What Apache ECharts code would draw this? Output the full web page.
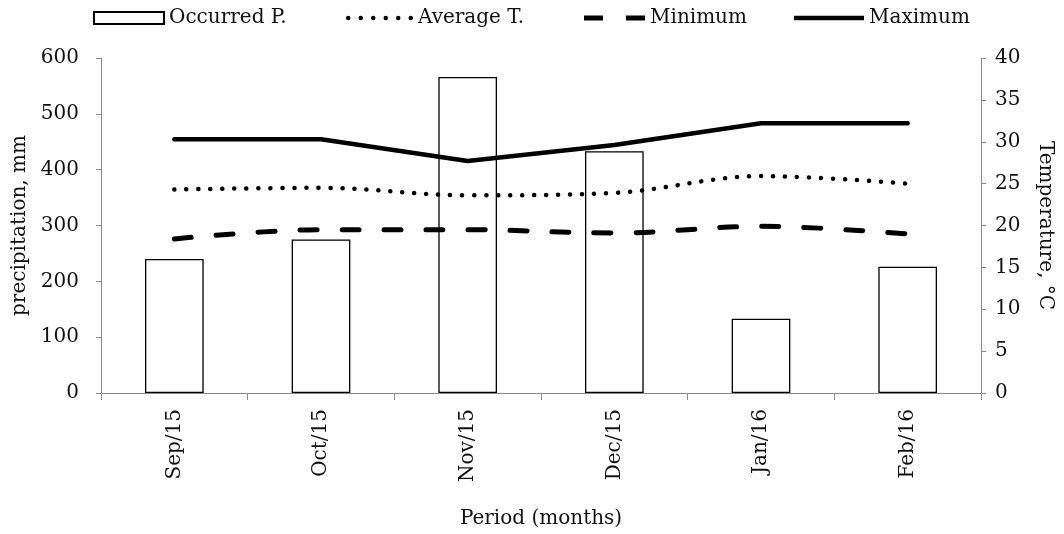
<!DOCTYPE html>
<html>
<head>
<meta charset="utf-8">
<script src="https://cdn.jsdelivr.net/npm/echarts@6/dist/echarts.min.js"></script>
<style>
html,body{margin:0;padding:0;background:#fff;}
#chart{width:1064px;height:534px;}
</style>
</head>
<body>
<div id="chart"></div>
<script>
const categories = ['Sep/15', 'Oct/15', 'Nov/15', 'Dec/15', 'Jan/16', 'Feb/16'];
const occurredP = [240, 275, 566, 433, 133, 226];
const averageT = [24.3, 24.5, 23.6, 23.9, 25.9, 25.0];
const minimumT = [18.4, 19.5, 19.5, 19.1, 19.9, 19.0];
const maximumT = [30.3, 30.3, 27.7, 29.6, 32.2, 32.2];
const seriesNames = ['Occurred P.', 'Average T.', 'Minimum', 'Maximum'];

const FONT = 'DejaVu Serif';
const TXT = '#111';
const AX = '#8a8a8a';

// legend icon shapes
let dotPath = 'path://';
for (let i = 0; i < 6; i++) {
  const x0 = i * 12.5;
  dotPath += 'M' + x0 + ',2.25 a2.25,2.25 0 1,0 4.5,0 a2.25,2.25 0 1,0 -4.5,0 Z ';
}
const dashPath = 'path://M0,0 h19 v5 h-19 Z M42,0 h19 v5 h-19 Z';
const solidPath = 'path://M0,0 h70 v4.5 h-70 Z';

const chart = echarts.init(document.getElementById('chart'), null, {renderer: 'canvas'});

function legendAt(name, left, w, h, icon) {
  return {
    data: [name],
    left: left,
    top: 8,
    padding: 0,
    icon: icon,
    itemWidth: w,
    itemHeight: h,
    itemGap: 0,
    selectedMode: false,
    textStyle: {fontFamily: FONT, fontSize: 20, color: TXT, lineHeight: 20}
  };
}

const option = {
  backgroundColor: '#fff',
  animation: false,
  legend: [
    legendAt(seriesNames[0], 93, 70, 12, 'rect'),
    legendAt(seriesNames[1], 346, 67, 4.5, dotPath),
    legendAt(seriesNames[2], 584, 61, 5, dashPath),
    legendAt(seriesNames[3], 794, 70, 4.5, solidPath)
  ],
  grid: {left: 101, right: 83, top: 58, bottom: 141, containLabel: false},
  xAxis: {
    type: 'category',
    data: categories,
    boundaryGap: true,
    name: 'Period (months)',
    nameLocation: 'middle',
    nameGap: 116,
    nameTextStyle: {fontFamily: FONT, fontSize: 20, color: TXT},
    axisLine: {show: true, lineStyle: {color: AX, width: 1}},
    axisTick: {show: true, length: 7, lineStyle: {color: AX}},
    axisLabel: {rotate: 90, margin: 16, fontFamily: FONT, fontSize: 20, color: TXT},
    splitLine: {show: false}
  },
  yAxis: [
    {
      type: 'value',
      min: 0, max: 600, interval: 100,
      position: 'left',
      name: 'precipitation, mm',
      nameLocation: 'middle',
      nameGap: 68,
      nameTextStyle: {fontFamily: FONT, fontSize: 20, color: TXT},
      axisLine: {show: true, lineStyle: {color: AX, width: 1}},
      axisTick: {show: true, length: 5, lineStyle: {color: AX}},
      axisLabel: {margin: 22, fontFamily: FONT, fontSize: 20, color: TXT},
      splitLine: {show: false}
    },
    {
      type: 'value',
      min: 0, max: 40, interval: 5,
      position: 'right',
      name: 'Temperature, °C',
      nameLocation: 'middle',
      nameRotate: -90,
      nameGap: 54,
      nameTextStyle: {fontFamily: FONT, fontSize: 20, color: TXT},
      axisLine: {show: true, lineStyle: {color: AX, width: 1}},
      axisTick: {show: true, length: 5, lineStyle: {color: AX}},
      axisLabel: {margin: 14, fontFamily: FONT, fontSize: 20, color: TXT},
      splitLine: {show: false}
    }
  ],
  series: [
    {
      name: seriesNames[0],
      type: 'bar',
      yAxisIndex: 0,
      data: occurredP,
      barWidth: '40%',
      itemStyle: {color: '#ffffff', borderColor: '#000', borderWidth: 1.3}
    },
    {
      name: seriesNames[1],
      type: 'line',
      yAxisIndex: 1,
      data: averageT,
      smooth: 0.35,
      symbol: 'none',
      itemStyle: {color: '#000'},
      lineStyle: {color: '#000', width: 4.5, type: [0.1, 11.9], cap: 'round'}
    },
    {
      name: seriesNames[2],
      type: 'line',
      yAxisIndex: 1,
      data: minimumT,
      smooth: 0.35,
      symbol: 'none',
      itemStyle: {color: '#000'},
      lineStyle: {color: '#000', width: 5, type: [17, 25], cap: 'round'}
    },
    {
      name: seriesNames[3],
      type: 'line',
      yAxisIndex: 1,
      data: maximumT,
      smooth: false,
      symbol: 'none',
      itemStyle: {color: '#000'},
      lineStyle: {color: '#000', width: 4.5, cap: 'round', join: 'round'}
    }
  ]
};
chart.setOption(option);
</script>
</body>
</html>
